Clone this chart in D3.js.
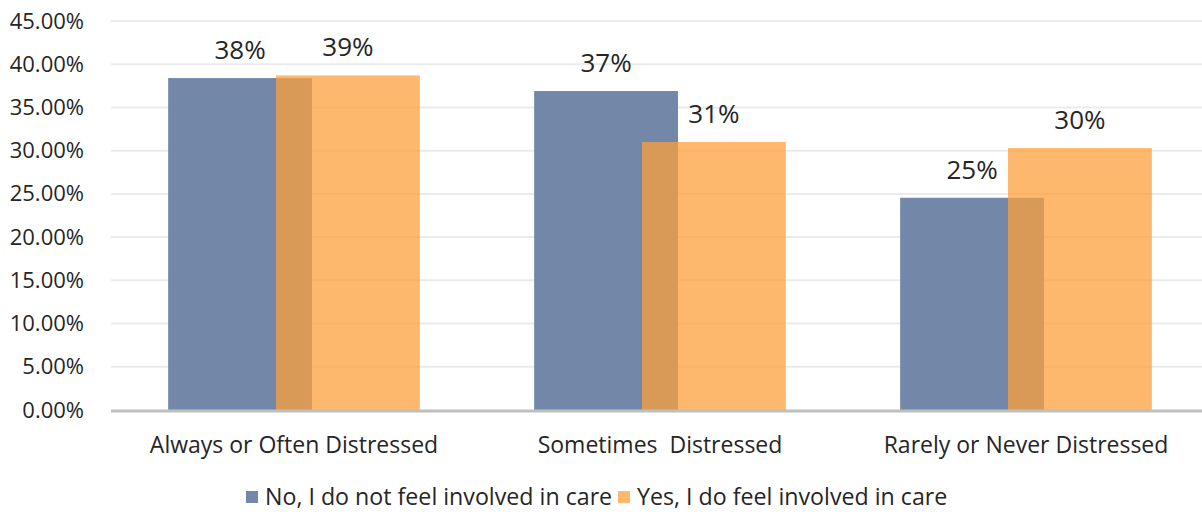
<!DOCTYPE html>
<html>
<head>
<meta charset="utf-8">
<script src="https://cdn.jsdelivr.net/npm/d3@7/dist/d3.min.js"></script>
<style>
  html, body { margin: 0; padding: 0; background: #fff; }
  svg { display: block; font-family: "Open Sans", "Noto Sans", sans-serif; }
</style>
</head>
<body>
<svg id="chart" width="1202" height="512"></svg>
<script>
// Distress level by whether the respondent feels involved in care
const categories = ["Always or Often Distressed", "Sometimes  Distressed", "Rarely or Never Distressed"];
const seriesNames = ["No, I do not feel involved in care", "Yes, I do feel involved in care"];
const notInvolved = [0.384, 0.369, 0.2455];
const involved = [0.387, 0.310, 0.303];
const yTicks = [0, 0.05, 0.10, 0.15, 0.20, 0.25, 0.30, 0.35, 0.40, 0.45];
const colors = ["#7388a9", "#fca03c"];

const svg = d3.select("#chart");
const W = 1202, H = 512;
const m = { left: 111, right: -7, top: 21, bottom: 102 };

const x = d3.scaleBand().domain(categories).range([m.left, W - m.right]);
const y = d3.scaleLinear().domain([0, 0.45]).range([H - m.bottom, m.top]);

const barW = x.bandwidth() * 0.393;
const step = barW * 0.75;
const textColor = "#262626";

// gridlines
svg.append("g")
  .selectAll("line")
  .data(yTicks.slice(1))
  .join("line")
  .attr("x1", m.left).attr("x2", W)
  .attr("y1", d => y(d)).attr("y2", d => y(d))
  .attr("stroke", "#ebebeb").attr("stroke-width", 2);

// y axis labels
const yAxis = d3.axisLeft(y).tickValues(yTicks).tickFormat(d3.format(".2%")).tickSize(0).tickPadding(0);
svg.append("g")
  .attr("transform", `translate(84,0)`)
  .call(yAxis)
  .call(g => g.select(".domain").remove())
  .call(g => g.selectAll("text")
    .attr("font-family", "Open Sans, Noto Sans, sans-serif")
    .attr("font-size", 22).attr("fill", textColor));

const series = [notInvolved, involved];
const fmt = d3.format(".0%");
const barX = (c, si) => x(c) + x.bandwidth() / 2 - (barW + step) / 2 + si * step;

series.forEach((vals, si) => {
  svg.append("g").selectAll("rect")
    .data(categories)
    .join("rect")
    .attr("x", c => barX(c, si))
    .attr("width", barW)
    .attr("y", (c, i) => y(vals[i]))
    .attr("height", (c, i) => y(0) - y(vals[i]))
    .attr("fill", colors[si])
    .attr("fill-opacity", si === 1 ? 0.75 : 1);
});

// value labels
series.forEach((vals, si) => {
  svg.append("g").selectAll("text")
    .data(categories)
    .join("text")
    .attr("x", c => barX(c, si) + barW / 2)
    .attr("y", (c, i) => y(vals[i]) - 19)
    .attr("text-anchor", "middle")
    .attr("font-size", 26)
    .attr("fill", textColor)
    .text((c, i) => fmt(vals[i]));
});

// baseline axis
svg.append("line")
  .attr("x1", m.left).attr("x2", W)
  .attr("y1", y(0) + 1).attr("y2", y(0) + 1)
  .attr("stroke", "#bfbfbf").attr("stroke-width", 3);

// category labels
const xAxis = d3.axisBottom(x).tickSize(0).tickPadding(0);
svg.append("g")
  .attr("transform", `translate(0,${H - m.bottom + 27})`)
  .call(xAxis)
  .call(g => g.select(".domain").remove())
  .call(g => g.selectAll("text")
    .attr("font-family", "Open Sans, Noto Sans, sans-serif")
    .attr("font-size", 23).attr("fill", textColor)
    .style("white-space", "pre"));

// legend
const legendX = [246, 618];
const lg = svg.append("g");
seriesNames.forEach((name, i) => {
  lg.append("rect")
    .attr("x", legendX[i]).attr("y", 491)
    .attr("width", 12).attr("height", 12)
    .attr("fill", colors[i])
    .attr("fill-opacity", i === 1 ? 0.75 : 1);
  lg.append("text")
    .attr("x", legendX[i] + 19).attr("y", 505)
    .attr("font-size", 23.2).attr("fill", textColor)
    .text(name);
});
</script>
</body>
</html>
